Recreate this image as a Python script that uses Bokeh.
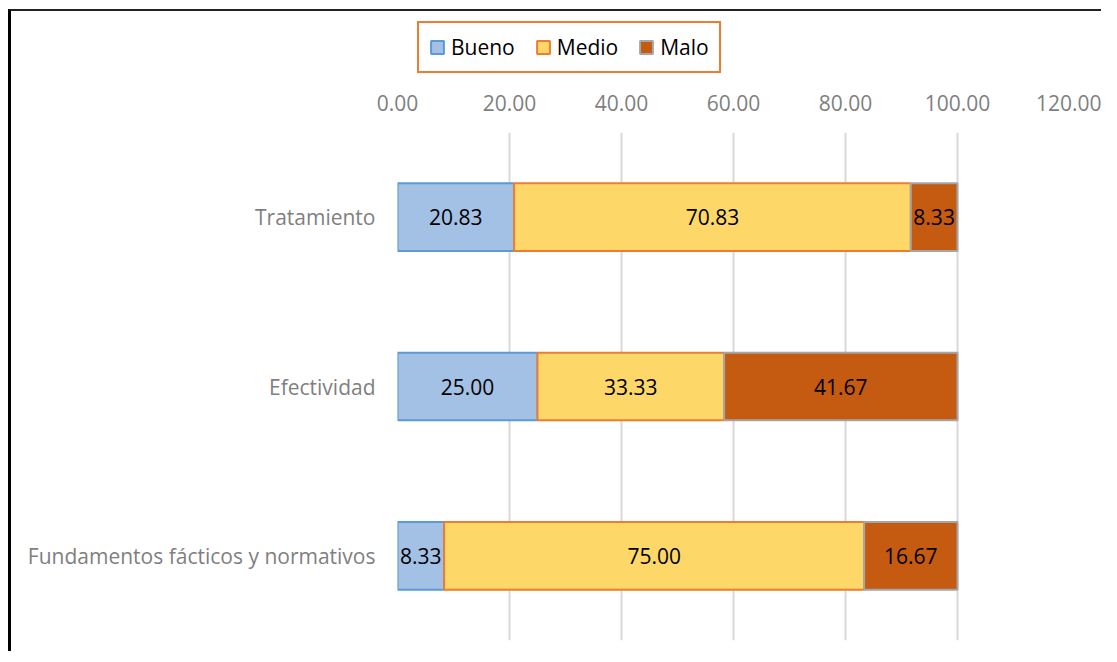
import numpy as np
from bokeh.plotting import figure
from bokeh.layouts import column
from bokeh.models import (ColumnDataSource, FactorRange, Range1d, Legend, LegendItem,
                          FixedTicker, NumeralTickFormatter)
from bokeh.core.properties import value
from bokeh.embed import file_html
from bokeh.resources import INLINE

categories = ["Tratamiento", "Efectividad", "Fundamentos fácticos y normativos"]
series = ["Bueno", "Medio", "Malo"]
bueno = [20.83, 25.00, 8.33]
medio = [70.83, 33.33, 75.00]
malo = [8.33, 41.67, 16.67]
ticks = [0, 20, 40, 60, 80, 100, 120]

fills = ["#a3c0e5", "#fdd869", "#c55a11"]
lines = ["#5b9bd5", "#ed7d31", "#a5a5a5"]
FONT = "Open Sans"
FS = "21px"

src = ColumnDataSource(dict(cat=categories, Bueno=bueno, Medio=medio, Malo=malo))

# ---- legend strip (top); its tiny bars sit hidden under the opaque legend box ----
pl = figure(width=1090, height=76, output_backend="svg", toolbar_location=None,
            x_axis_type=None, y_axis_type=None, x_range=Range1d(-12, 228),
            y_range=FactorRange(*categories[::-1], range_padding=1),
            min_border_left=0, min_border_right=0, min_border_top=0, min_border_bottom=0)
pl.outline_line_color = None
pl.grid.visible = False
leg_rs = pl.hbar_stack(series, y="cat", height=0.1, source=src,
                       fill_color=fills, line_color=lines, line_width=2)
legend = Legend(items=[LegendItem(label=s, renderers=[r]) for s, r in zip(series, leg_rs)],
                orientation="horizontal", location=(20, 14),
                border_line_color="#ed7d31", border_line_width=2.5, border_line_alpha=1,
                background_fill_color="white", background_fill_alpha=1,
                label_text_font=FONT, label_text_font_size=FS, label_text_color="black",
                glyph_width=16, glyph_height=16, spacing=20, padding=10, margin=0,
                label_standoff=6)
pl.add_layout(legend, "center")

# ---- main chart ----
p = figure(width=1090, height=564, output_backend="svg", toolbar_location=None,
           y_range=FactorRange(*categories[::-1], range_padding=0),
           x_range=Range1d(0, 120), x_axis_location="above",
           min_border_left=386, min_border_right=32, min_border_top=45, min_border_bottom=11)
p.outline_line_color = None

rs = p.hbar_stack(series, y="cat", height=0.4, source=src,
                  fill_color=fills, line_color=lines, line_width=2)

vals = np.array([bueno, medio, malo])
cum = np.cumsum(vals, axis=0)
mids = cum - vals / 2
for i in range(3):
    p.text(x=mids[i], y=categories, text=[f"{v:.2f}" for v in vals[i]],
           text_align="center", text_baseline="middle", text_color="black",
           text_font=value(FONT), text_font_size=FS)

p.xaxis.ticker = FixedTicker(ticks=ticks)
p.xaxis.formatter = NumeralTickFormatter(format="0.00")
for ax in (p.xaxis[0], p.yaxis[0]):
    ax.axis_line_color = None
    ax.major_tick_line_color = None
    ax.minor_tick_line_color = None
    ax.major_label_text_color = "#7f7f7f"
    ax.major_label_text_font = FONT
    ax.major_label_text_font_size = FS
p.xaxis.major_label_standoff = 16
p.yaxis.major_label_standoff = 16

p.xgrid.grid_line_color = "#d9d9d9"
p.xgrid.grid_line_width = 2
p.ygrid.grid_line_color = None

layout = column(pl, p, spacing=0)
layout.styles = {"margin-left": "8px", "margin-top": "9px",
                 "border-left": "3px solid black", "border-top": "2px solid #222222"}

open("out.html", "w").write(file_html(layout, INLINE))
